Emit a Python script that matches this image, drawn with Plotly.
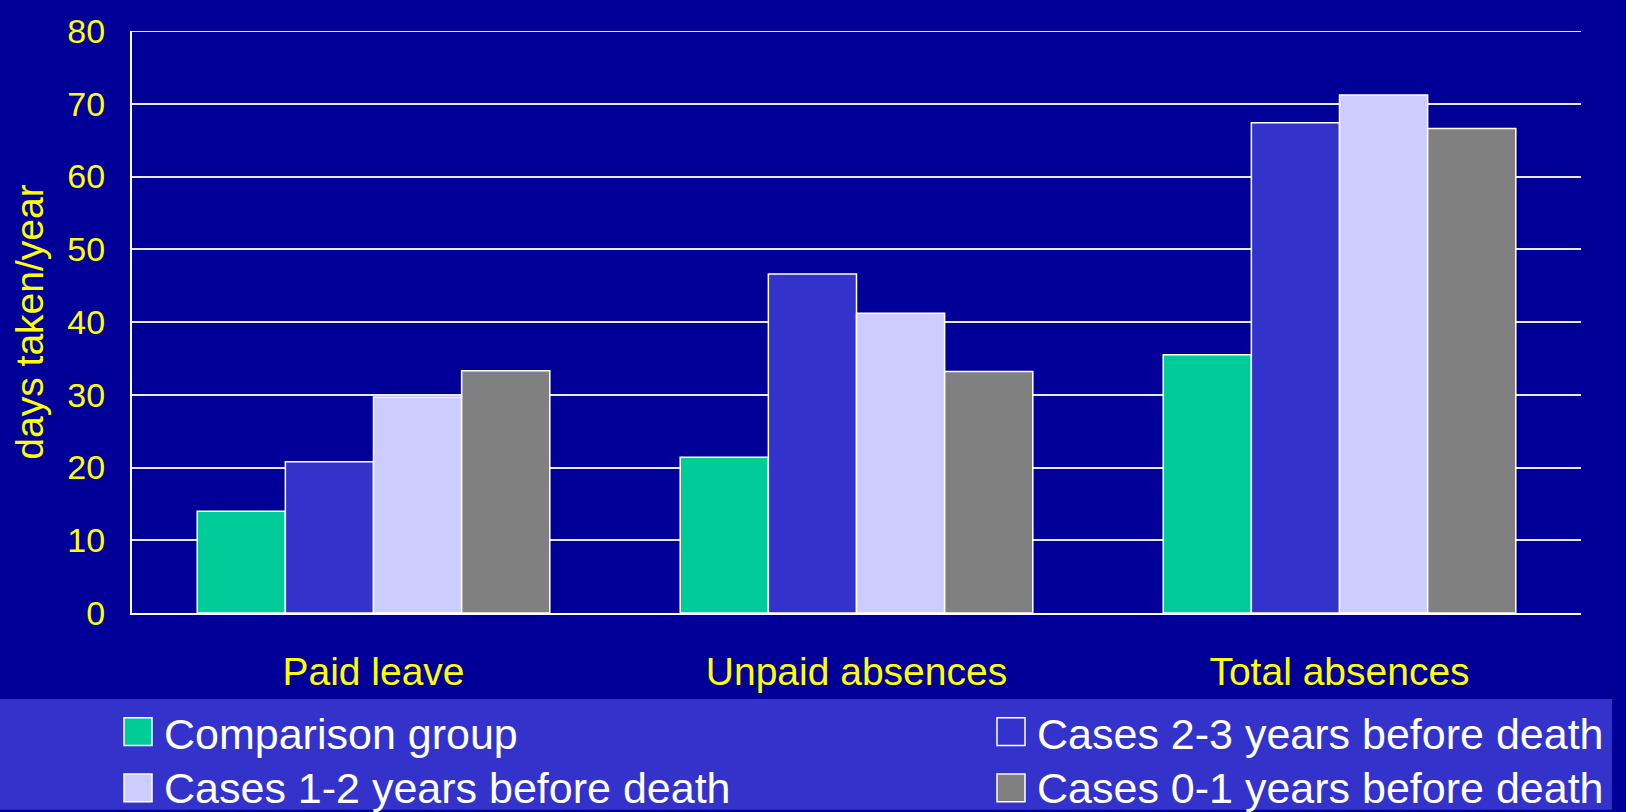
import plotly.graph_objects as go

categories = ["Paid leave", "Unpaid absences", "Total absences"]
series_names = [
    "Comparison group",
    "Cases 2-3 years before death",
    "Cases 1-2 years before death",
    "Cases 0-1 years before death",
]
comparison = [14.0, 21.4, 35.5]
cases_2_3 = [20.8, 46.6, 67.4]
cases_1_2 = [29.7, 41.2, 71.2]
cases_0_1 = [33.3, 33.2, 66.6]
series_values = [comparison, cases_2_3, cases_1_2, cases_0_1]
colors = ["#00CC99", "#3333CC", "#CCCCFF", "#808080"]
y_ticks = [0, 10, 20, 30, 40, 50, 60, 70, 80]

W, H = 1626, 812
ML, MR, MT, MB = 132, 45, 24, 199
PW = W - ML - MR
PH = H - MT - MB

def px_x(px):
    return (px - ML) / PW

def px_y(py):
    return (H - MB - py) / PH

FONT = "Arial, 'Liberation Sans', sans-serif"
GRID = "#E8E8F0"

fig = go.Figure()
for name, vals, col in zip(series_names, series_values, colors):
    fig.add_trace(go.Bar(
        x=categories, y=vals, name=name,
        marker=dict(color=col, line=dict(color="white", width=1.5)),
        showlegend=False,
    ))

shapes = [
    dict(type="rect", xref="paper", yref="paper", layer="below",
         x0=px_x(0), x1=px_x(1612), y0=px_y(812), y1=px_y(700),
         fillcolor="#3333CC", line=dict(width=0)),
    dict(type="line", xref="paper", yref="y", layer="below",
         x0=0, x1=1, y0=y_ticks[-1], y1=y_ticks[-1],
         line=dict(color=GRID, width=2)),
]
annotations = []
legend_pos = [(124, 733), (997, 733), (124, 790), (997, 790)]
text_dy = [2, 2, 0, 0]
for (lx, ly), dy, idx in zip(legend_pos, text_dy, range(4)):
    shapes.append(dict(type="rect", xref="paper", yref="paper",
                       x0=px_x(lx), x1=px_x(lx + 28), y0=px_y(ly + 14), y1=px_y(ly - 14),
                       fillcolor=colors[idx], line=dict(color="white", width=1.5)))
    annotations.append(dict(xref="paper", yref="paper", x=px_x(lx + 38), y=px_y(ly + dy),
                            xanchor="left", yanchor="middle", showarrow=False,
                            text=series_names[idx],
                            font=dict(family=FONT, size=43, color="white")))

fig.update_layout(
    width=W, height=H,
    margin=dict(l=ML, r=MR, t=MT, b=MB),
    paper_bgcolor="#000099", plot_bgcolor="#000099",
    barmode="group", bargap=0.27, bargroupgap=0,
    shapes=shapes, annotations=annotations,
    font=dict(family=FONT, color="#FFFF00"),
    showlegend=False,
)
fig.update_xaxes(
    showgrid=False, showline=True, linecolor="white", linewidth=2,
    ticks="", ticklabelstandoff=23,
    tickfont=dict(family=FONT, size=39, color="#FFFF00"),
)
fig.update_yaxes(
    range=[0, 80], tickvals=y_ticks, ticktext=[str(v) for v in y_ticks],
    showgrid=True, gridcolor=GRID, gridwidth=2,
    showline=True, linecolor="white", linewidth=2,
    zeroline=False, ticks="", ticklabelstandoff=18,
    tickfont=dict(family=FONT, size=34, color="#FFFF00"),
    title=dict(text="days taken/year", font=dict(family=FONT, size=39, color="#FFFF00"), standoff=12),
)

fig.write_html(
    "out.html",
    config={"displayModeBar": False},
    post_script="document.body.style.margin='0';document.body.style.overflow='hidden';",
)
